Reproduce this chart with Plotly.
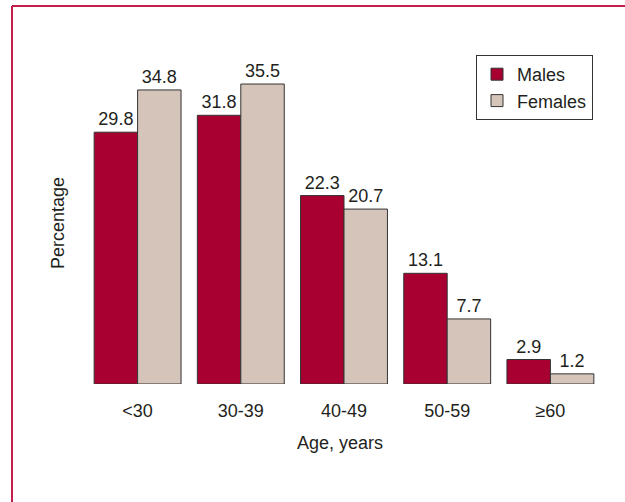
import plotly.graph_objects as go

categories = ["<30", "30-39", "40-49", "50-59", "≥60"]
males = [29.8, 31.8, 22.3, 13.1, 2.9]
females = [34.8, 35.5, 20.7, 7.7, 1.2]
series_names = ["Males", "Females"]

W, H = 625, 502
L, R, T, B = 86, 23, 46, 118
pw, ph = W - L - R, H - T - B

def px_x(px):
    return (px - L) / pw

def px_y(py):
    return (H - B - py) / ph

FONT = "Liberation Sans, Arial, sans-serif"
FS = 18
male_col = "#A80030"
female_col = "#D5C4BA"
text_col = "#231F20"

fig = go.Figure()
for name, vals, col in [(series_names[0], males, male_col), (series_names[1], females, female_col)]:
    fig.add_trace(go.Bar(
        x=categories, y=vals, name=name,
        marker=dict(color=col, line=dict(color="#333333", width=1)),
        text=[f"{v:.1f}" for v in vals], textposition="outside",
        textfont=dict(family=FONT, size=FS, color=text_col),
        cliponaxis=False,
    ))

fig.update_layout(
    width=W, height=H,
    margin=dict(l=L, r=R, t=T, b=B, autoexpand=False),
    paper_bgcolor="white", plot_bgcolor="white",
    barmode="group", bargap=0.158, bargroupgap=0,
    font=dict(family=FONT, size=FS, color=text_col),
    xaxis=dict(showline=False, ticks="", showgrid=False,
               tickfont=dict(family=FONT, size=FS, color=text_col),
               ticklabelstandoff=14),
    yaxis=dict(range=[0, 40], showticklabels=False, showgrid=False,
               zeroline=False, showline=False, ticks=""),
    legend=dict(x=px_x(476), y=px_y(55), xanchor="left", yanchor="top",
                bordercolor="#333333", borderwidth=1, bgcolor="white",
                font=dict(family=FONT, size=FS, color=text_col),
                tracegroupgap=2),
    showlegend=True,
    annotations=[
        dict(text="Percentage", xref="paper", yref="paper", x=px_x(58), y=px_y(223),
             textangle=-90, showarrow=False, font=dict(family=FONT, size=FS, color=text_col),
             xanchor="center", yanchor="middle"),
        dict(text="Age, years", xref="paper", yref="paper", x=px_x(340), y=px_y(443),
             showarrow=False, font=dict(family=FONT, size=FS, color=text_col),
             xanchor="center", yanchor="middle"),
    ],
    shapes=[
        dict(type="line", xref="paper", yref="paper", x0=px_x(12), y0=px_y(6), x1=px_x(640), y1=px_y(6),
             line=dict(color="#C41E4A", width=2)),
        dict(type="line", xref="paper", yref="paper", x0=px_x(12), y0=px_y(6), x1=px_x(12), y1=px_y(520),
             line=dict(color="#C41E4A", width=2)),
    ],
)

fig.write_html("out.html", config={"displayModeBar": False},
               post_script="document.body.style.margin='0';document.body.style.overflow='hidden';")
